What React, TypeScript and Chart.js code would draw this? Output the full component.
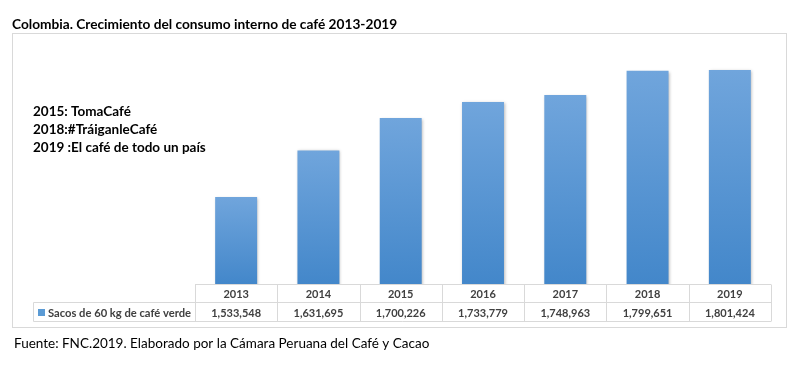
import React, { useEffect, useRef } from 'react';
import { Chart, registerables } from 'chart.js';

Chart.register(...registerables);

const title = 'Colombia. Crecimiento del consumo interno de café 2013-2019';
const years = ['2013', '2014', '2015', '2016', '2017', '2018', '2019'];
const sacks = [1533548, 1631695, 1700226, 1733779, 1748963, 1799651, 1801424];
const seriesLabel = 'Sacos de 60 kg de café verde';
const campaigns = ['2015: TomaCafé', '2018:#TráiganleCafé', '2019 :El café de todo un país'];
const source = 'Fuente: FNC.2019. Elaborado por la Cámara Peruana del Café y Cacao';
const yMin = 1350000;
const yMax = 1850000;

const FONT = 'Lato, "Open Sans", sans-serif';

const decorPlugin = {
  id: 'decor',
  beforeDatasetsDraw(chart: any) {
    const c = chart.ctx;
    c.save();
    c.shadowColor = 'rgba(0,0,0,0.28)';
    c.shadowBlur = 3;
    c.shadowOffsetX = 1;
    c.shadowOffsetY = 1;
  },
  afterDatasetsDraw(chart: any) {
    chart.ctx.restore();
  },
  afterDraw(chart: any) {
    const c = chart.ctx;
    const area = chart.chartArea;
    const xs = chart.scales.x;
    const n = years.length;
    const colW = (area.right - area.left) / n;
    c.save();
    // title
    c.fillStyle = '#000';
    c.font = `bold 13.7px ${FONT}`;
    c.textBaseline = 'middle';
    c.textAlign = 'left';
    c.fillText(title, 12, 25);
    // outer box
    c.strokeStyle = '#D9D9D9';
    c.lineWidth = 1;
    c.strokeRect(12.5, 33.5, 774, 294);
    // campaigns
    c.font = `bold 13.5px ${FONT}`;
    c.fillStyle = '#000';
    campaigns.forEach((t, i) => c.fillText(t, 33, 112 + i * 18));
    // table
    const tTop = area.bottom + 0.5;
    const tMid = tTop + 18;
    const tBot = tMid + 19;
    const left = 33.5;
    c.strokeStyle = '#D9D9D9';
    c.beginPath();
    c.moveTo(area.left, tTop); c.lineTo(area.right, tTop);
    c.moveTo(left, tMid); c.lineTo(area.right, tMid);
    c.moveTo(left, tBot); c.lineTo(area.right, tBot);
    c.moveTo(left, tMid); c.lineTo(left, tBot);
    for (let k = 0; k <= n; k++) {
      const x = Math.round(area.left + k * colW) + 0.5;
      c.moveTo(x, tTop); c.lineTo(x, tBot);
    }
    c.stroke();
    c.fillStyle = '#404040';
    c.font = `bold 11px ${FONT}`;
    c.textAlign = 'center';
    years.forEach((y, i) => {
      const x = xs.getPixelForValue(i);
      c.fillText(y, x, (tTop + tMid) / 2 + 1);
      c.fillText(sacks[i].toLocaleString('en-US'), x, (tMid + tBot) / 2 + 1);
    });
    c.fillStyle = '#5B9BD5';
    c.fillRect(38, (tMid + tBot) / 2 - 3, 7, 7);
    c.fillStyle = '#404040';
    c.textAlign = 'left';
    c.font = `bold 11.2px ${FONT}`;
    c.fillText(seriesLabel, 48, (tMid + tBot) / 2 + 1);
    // source
    c.fillStyle = '#000';
    c.font = `13.5px ${FONT}`;
    c.fillText(source, 14, 344);
    c.restore();
  },
};

export default function App() {
  const ref = useRef<HTMLCanvasElement | null>(null);
  useEffect(() => {
    if (!ref.current) return;
    const chart = new Chart(ref.current, {
      type: 'bar',
      data: {
        labels: years,
        datasets: [
          {
            label: seriesLabel,
            data: sacks,
            categoryPercentage: 1,
            barPercentage: 0.51,
            borderWidth: 0,
            backgroundColor: (ctx: any) => {
              const chart = ctx.chart;
              const area = chart.chartArea;
              if (!area || ctx.raw == null) return '#5B9BD5';
              const top = chart.scales.y.getPixelForValue(ctx.raw);
              const g = chart.ctx.createLinearGradient(0, top, 0, area.bottom);
              g.addColorStop(0, '#70A5DC');
              g.addColorStop(1, '#4387CA');
              return g;
            },
          },
        ],
      },
      options: {
        responsive: false,
        animation: false,
        layout: { padding: { left: 195, right: 29, top: 47, bottom: 82 } },
        plugins: { legend: { display: false }, tooltip: { enabled: false }, title: { display: false } },
        scales: {
          x: { display: false },
          y: { display: false, min: yMin, max: yMax },
        },
      },
      plugins: [decorPlugin],
    });
    return () => chart.destroy();
  }, []);
  return (
    <div style={{ position: 'absolute', left: 0, top: 0, width: 800, height: 366, background: '#fff' }}>
      <canvas ref={ref} width={800} height={366} />
    </div>
  );
}
